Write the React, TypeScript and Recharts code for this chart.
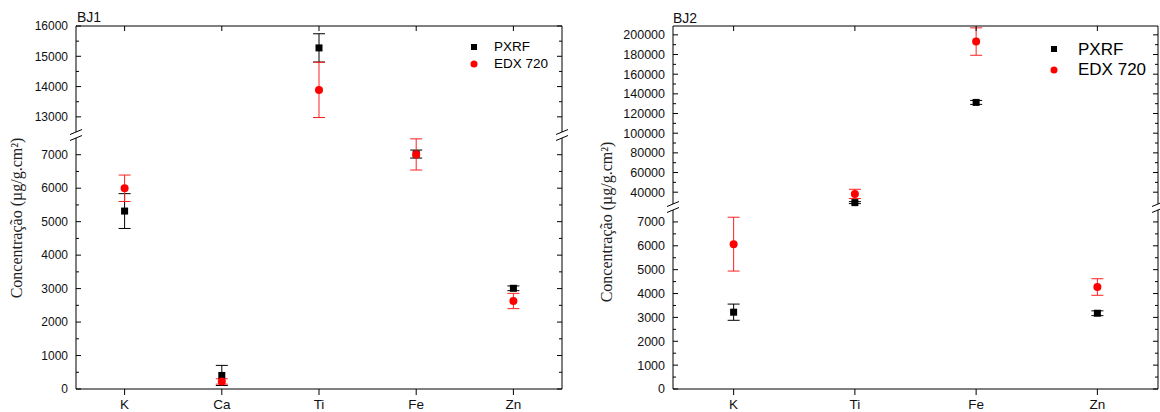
import React from 'react';
import { ScatterChart, Scatter, XAxis, YAxis, ErrorBar, Legend } from 'recharts';

const FONT = '"Liberation Sans", Arial, sans-serif';
const SERIF = '"Liberation Serif", "Times New Roman", serif';
const PXRF_NAME = 'PXRF';
const EDX_NAME = 'EDX 720';
const Y_TITLE = 'Concentração (µg/g.cm²)';

// ---------- BJ1 ----------
const bj1Elements = ['K', 'Ca', 'Ti', 'Fe', 'Zn'];
const bj1Pxrf = [5317, 405, 15277, 7020, 3009];
const bj1PxrfErr = [520, 300, 467, 120, 70];
const bj1Edx = [5998, 226, 13890, 7009, 2630];
const bj1EdxErr = [395, 80, 912, 466, 228];
const bj1UpperDomain = [12500, 16000];
const bj1LowerDomain = [0, 7500];
const bj1UpperTicks = [13000, 14000, 15000, 16000];
const bj1UpperMinor = [13500, 14500, 15500];
const bj1LowerTicks = [0, 1000, 2000, 3000, 4000, 5000, 6000, 7000];
const bj1LowerMinor = [500, 1500, 2500, 3500, 4500, 5500, 6500];

// ---------- BJ2 ----------
const bj2Elements = ['K', 'Ti', 'Fe', 'Zn'];
const bj2Pxrf = [3218, 29400, 131300, 3175];
const bj2PxrfErr = [340, 1000, 2000, 100];
const bj2Edx = [6069, 38270, 193180, 4273];
const bj2EdxErr = [1128, 4700, 13940, 347];
const bj2UpperDomain = [28000, 209000];
const bj2LowerDomain = [0, 7500];
const bj2UpperTicks = [40000, 60000, 80000, 100000, 120000, 140000, 160000, 180000, 200000];
const bj2UpperMinor = [50000, 70000, 90000, 110000, 130000, 150000, 170000, 190000];
const bj2LowerTicks = [0, 1000, 2000, 3000, 4000, 5000, 6000, 7000];
const bj2LowerMinor = [500, 1500, 2500, 3500, 4500, 5500, 6500];

function segmentData(values: number[], errs: number[], dom: number[]) {
  return values
    .map((v, i) => ({ x: i + 1, y: v, err: errs[i] }))
    .filter((p) => p.y >= dom[0] && p.y <= dom[1]);
}

const SquareShape = (p: any) => <rect x={p.cx - 3.5} y={p.cy - 3.5} width={7} height={7} fill="#000" />;
const CircleShape = (p: any) => <circle cx={p.cx} cy={p.cy} r={4} fill="#ff0000" />;
const Slash = ({ x, y }: any) => (
  <line x1={x - 6} y1={y + 2.5} x2={x + 6} y2={y - 2.5} stroke="#000" strokeWidth={1} />
);

const makeLegend = (fs: number, rowH: number, gap: number) => () => (
  <div style={{ fontFamily: FONT, fontSize: fs, color: '#000' }}>
    {[PXRF_NAME, EDX_NAME].map((name) => (
      <div key={name} style={{ display: 'flex', alignItems: 'center', height: rowH }}>
        <svg width={8} height={8} style={{ display: 'block' }}>
          {name === PXRF_NAME ? (
            <rect x={1} y={1} width={6} height={6} fill="#000" />
          ) : (
            <circle cx={4} cy={4} r={3.5} fill="#ff0000" />
          )}
        </svg>
        <span style={{ marginLeft: gap, lineHeight: 1, whiteSpace: 'nowrap' }}>{name}</span>
      </div>
    ))}
  </div>
);

type SegProps = {
  left: number; top: number; width: number; height: number; margin: any;
  upper: boolean; domain: number[]; majors: number[]; minors: number[];
  categories: string[]; pxrf: number[]; pxrfErr: number[]; edx: number[]; edxErr: number[];
  yFont: number; legend?: any;
};

function Segment(s: SegProps) {
  const n = s.categories.length;
  const xDomain = [0.5, n + 0.5];
  const xTicks = s.categories.map((_, i) => i + 1);
  const pData = segmentData(s.pxrf, s.pxrfErr, s.domain);
  const eData = segmentData(s.edx, s.edxErr, s.domain);
  const breakY = s.upper ? s.domain[0] : s.domain[1];
  const yTicks = [...s.majors, ...s.minors, breakY];

  const LeftTick = (p: any) => {
    const v = p.payload.value;
    if (v === breakY) return <Slash x={p.x} y={p.y} />;
    const major = s.majors.includes(v);
    return (
      <g>
        <line x1={p.x} y1={p.y} x2={p.x + (major ? 5 : 3)} y2={p.y} stroke="#000" strokeWidth={1} />
        {major && (
          <text x={p.x - 8} y={p.y} dy="0.355em" textAnchor="end" fill="#111" fontSize={s.yFont} fontFamily={FONT}>
            {String(v)}
          </text>
        )}
      </g>
    );
  };
  const RightTick = (p: any) => {
    const v = p.payload.value;
    if (v === breakY) return <Slash x={p.x} y={p.y} />;
    const major = s.majors.includes(v);
    return <line x1={p.x} y1={p.y} x2={p.x - (major ? 5 : 3)} y2={p.y} stroke="#000" strokeWidth={1} />;
  };
  const TopTick = (p: any) => <line x1={p.x} y1={p.y} x2={p.x} y2={p.y + 5} stroke="#000" strokeWidth={1} />;

  return (
    <div style={{ position: 'absolute', left: s.left, top: s.top }}>
      <ScatterChart width={s.width} height={s.height} margin={s.margin}>
        {s.upper ? (
          <XAxis type="number" dataKey="x" domain={xDomain} ticks={xTicks} orientation="top" mirror height={1}
            stroke="#000" tickSize={0} tickMargin={0} tickLine={false} tick={TopTick} interval={0} allowDataOverflow />
        ) : (
          <XAxis type="number" dataKey="x" domain={xDomain} ticks={xTicks} orientation="bottom" height={22}
            stroke="#000" tickSize={6} tickMargin={4} interval={0}
            tickFormatter={(v: number) => s.categories[v - 1]}
            tick={{ fill: '#111', fontSize: 13.5, fontFamily: FONT }} allowDataOverflow />
        )}
        <YAxis yAxisId="L" type="number" domain={s.domain} ticks={yTicks} width={60} stroke="#000"
          tickLine={false} tickSize={0} tickMargin={0} interval={0} tick={LeftTick} />
        <YAxis yAxisId="R" type="number" orientation="right" mirror width={1} domain={s.domain} allowDataOverflow
          ticks={yTicks} stroke="#000" tickLine={false} tickSize={0} tickMargin={0} interval={0} tick={RightTick} />
        <Scatter name={PXRF_NAME} data={pData} dataKey="y" yAxisId="L" fill="#000" shape={SquareShape}
          legendType="square" isAnimationActive={false}>
          <ErrorBar dataKey="err" direction="y" width={6} stroke="#000" strokeWidth={1} isAnimationActive={false} />
        </Scatter>
        <Scatter name={EDX_NAME} data={eData} dataKey="y" yAxisId="L" fill="#ff0000" shape={CircleShape}
          legendType="circle" isAnimationActive={false}>
          <ErrorBar dataKey="err" direction="y" width={6} stroke="#ff2020" strokeWidth={1} isAnimationActive={false} />
        </Scatter>
        {s.legend}
      </ScatterChart>
    </div>
  );
}

const Title = ({ text, left, top }: any) => (
  <div style={{ position: 'absolute', left, top, fontFamily: FONT, fontSize: 14, lineHeight: '14px', color: '#111' }}>
    {text}
  </div>
);

const YTitle = ({ cx, cy }: any) => (
  <div style={{
    position: 'absolute', left: cx, top: cy, transform: 'translate(-50%, -50%) rotate(-90deg)',
    fontFamily: SERIF, fontSize: 16, lineHeight: '18px', whiteSpace: 'nowrap', color: '#222',
  }}>
    {Y_TITLE}
  </div>
);

export default function App() {
  return (
    <div style={{ position: 'absolute', left: 0, top: 0, width: 1160, height: 412, background: '#fff', overflow: 'hidden' }}>
      {/* BJ1 */}
      <Segment left={0} top={0} width={580} height={140} margin={{ top: 26, right: 18, bottom: 8, left: 16 }}
        upper domain={bj1UpperDomain} majors={bj1UpperTicks} minors={bj1UpperMinor} categories={bj1Elements}
        pxrf={bj1Pxrf} pxrfErr={bj1PxrfErr} edx={bj1Edx} edxErr={bj1EdxErr} yFont={12}
        legend={<Legend layout="vertical" align="center" verticalAlign="middle" content={makeLegend(13.5, 17, 16)}
          wrapperStyle={{ left: 470, top: 38.5, width: 'auto', height: 'auto' }} />} />
      <Segment left={0} top={128} width={580} height={283} margin={{ top: 10, right: 18, bottom: 0, left: 16 }}
        upper={false} domain={bj1LowerDomain} majors={bj1LowerTicks} minors={bj1LowerMinor} categories={bj1Elements}
        pxrf={bj1Pxrf} pxrfErr={bj1PxrfErr} edx={bj1Edx} edxErr={bj1EdxErr} yFont={12} />
      <Title text="BJ1" left={77} top={10} />
      <YTitle cx={17} cy={218} />

      {/* BJ2 */}
      <Segment left={590} top={0} width={570} height={212} margin={{ top: 26, right: 2, bottom: 8, left: 23 }}
        upper domain={bj2UpperDomain} majors={bj2UpperTicks} minors={bj2UpperMinor} categories={bj2Elements}
        pxrf={bj2Pxrf} pxrfErr={bj2PxrfErr} edx={bj2Edx} edxErr={bj2EdxErr} yFont={12.5}
        legend={<Legend layout="vertical" align="center" verticalAlign="middle" content={makeLegend(17, 20.5, 20)}
          wrapperStyle={{ left: 460, top: 38.75, width: 'auto', height: 'auto' }} />} />
      <Segment left={590} top={200} width={570} height={211} margin={{ top: 10, right: 2, bottom: 0, left: 23 }}
        upper={false} domain={bj2LowerDomain} majors={bj2LowerTicks} minors={bj2LowerMinor} categories={bj2Elements}
        pxrf={bj2Pxrf} pxrfErr={bj2PxrfErr} edx={bj2Edx} edxErr={bj2EdxErr} yFont={12.5} />
      <Title text="BJ2" left={673} top={11} />
      <YTitle cx={607} cy={222} />
    </div>
  );
}
